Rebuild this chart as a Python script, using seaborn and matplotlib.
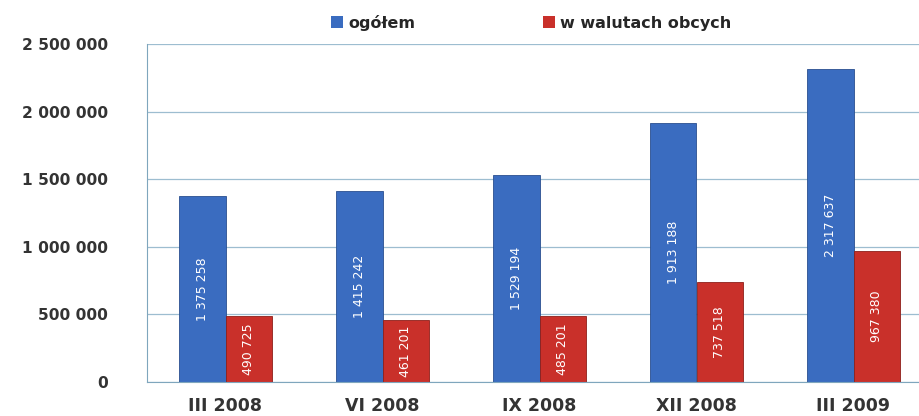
import pandas as pd
import numpy as np
import matplotlib
matplotlib.use('Agg')
import matplotlib.pyplot as plt
import seaborn as sns
from matplotlib.ticker import FuncFormatter, FixedLocator
from matplotlib.patches import Patch

# --- Data ---
periods = ['III 2008', 'VI 2008', 'IX 2008', 'XII 2008', 'III 2009']
total = [1375258, 1415242, 1529194, 1913188, 2317637]
foreign = [490725, 461201, 485201, 737518, 967380]
series_names = ['ogółem', 'w walutach obcych']
colors = ['#3a6cc0', '#c9302a']


def fmt_space(v, pos=None):
    return f'{int(v):,}'.replace(',', ' ')


df = pd.DataFrame({
    'okres': periods * 2,
    'wartosc': total + foreign,
    'seria': [series_names[0]] * len(periods) + [series_names[1]] * len(periods),
})

sns.set_style('white')
plt.rcParams['font.family'] = ['DejaVu Sans']

fig = plt.figure(figsize=(9.19, 4.16), dpi=100)
ax = fig.add_axes([147 / 919, 1 - 382 / 416, 1 - 147 / 919, (382 - 44) / 416])

sns.barplot(data=df, x='okres', y='wartosc', hue='seria', palette=colors,
            width=0.59, saturation=1, ax=ax, legend=False,
            edgecolor='#2a4f8f', linewidth=0.6)
for bar in ax.patches[len(periods):]:
    bar.set_edgecolor('#8e1f1a')

ax.set_ylim(0, 2500000)
ax.set_xlim(-0.5, (919 - 147) / 157 - 0.5)
ax.yaxis.set_major_formatter(FuncFormatter(fmt_space))
ax.set_yticks(np.arange(0, 2500001, 500000))
ax.grid(axis='y', color='#9dbdd0', linewidth=0.9)
ax.set_axisbelow(True)
ax.set_xlabel('')
ax.set_ylabel('')

for s in ['top', 'right']:
    ax.spines[s].set_visible(False)
ax.spines['left'].set_color('#7fa6bd')
ax.spines['bottom'].set_color('#7fa6bd')

ax.tick_params(axis='y', length=6, color='#7fa6bd', labelsize=11.2,
               labelcolor='#333333', pad=22)
for t in ax.get_yticklabels():
    t.set_fontweight('bold')
ax.tick_params(axis='x', which='major', length=0, labelsize=12.5,
               labelcolor='#333333', pad=11)
for t in ax.get_xticklabels():
    t.set_fontweight('bold')
ax.xaxis.set_minor_locator(FixedLocator(np.arange(-0.5, 5.0, 1.0)))
ax.tick_params(axis='x', which='minor', length=5, color='#7fa6bd')

# value labels inside bars
for bar, val in zip(ax.patches, total + foreign):
    h = bar.get_height()
    ax.text(bar.get_x() + bar.get_width() / 2, h / 2, fmt_space(val),
            rotation=90, ha='center', va='center', color='white',
            fontsize=9)

handles = [Patch(facecolor=c, edgecolor='none') for c in colors]
fig.legend(handles, series_names, loc='center', bbox_to_anchor=(0.578, 0.945),
           ncol=2, frameon=False, handlelength=0.75, handleheight=0.75,
           handletextpad=0.3, columnspacing=8.0,
           prop={'size': 11.5, 'weight': 'bold'})

fig.savefig('out.png', dpi=100)
